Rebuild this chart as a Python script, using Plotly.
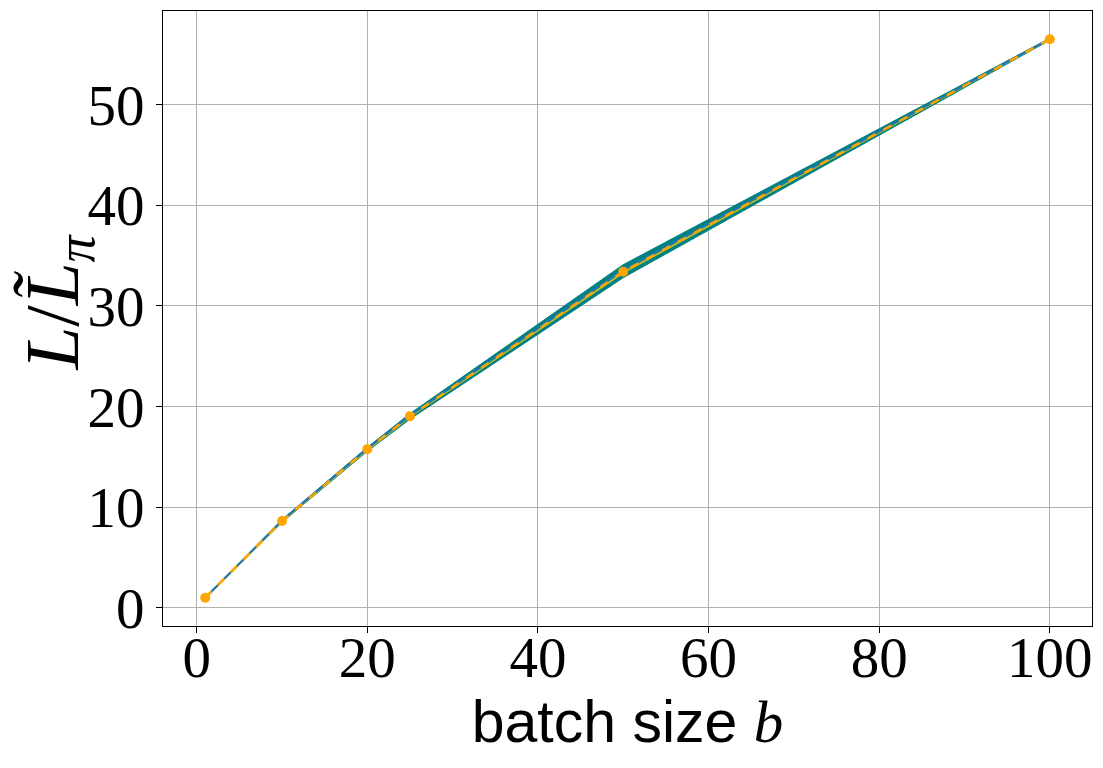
import plotly.graph_objects as go

batch = [1, 10, 20, 25, 50, 100]
ratio_mean = [1.0, 8.63, 15.77, 19.05, 33.4, 56.5]
ratio_low = [0.95, 8.5, 15.55, 18.75, 32.8, 56.4]
ratio_high = [1.05, 8.78, 15.95, 19.3, 34.1, 56.6]
run_a = [1.0, 8.6, 15.7, 19.0, 33.3, 56.5]
run_b = [1.0, 8.66, 15.82, 19.1, 33.55, 56.5]

x_ticks = [0, 20, 40, 60, 80, 100]
y_ticks = [0, 10, 20, 30, 40, 50]

fig = go.Figure()
fig.add_trace(go.Scatter(x=batch, y=ratio_low, mode="lines",
                         line=dict(color="teal", width=1), showlegend=False))
fig.add_trace(go.Scatter(x=batch, y=ratio_high, mode="lines", fill="tonexty",
                         fillcolor="teal", line=dict(color="teal", width=1),
                         showlegend=False))
fig.add_trace(go.Scatter(x=batch, y=run_a, mode="lines",
                         line=dict(color="#bcbd22", width=2), showlegend=False))
fig.add_trace(go.Scatter(x=batch, y=run_b, mode="lines",
                         line=dict(color="#1f77b4", width=2), showlegend=False))
fig.add_trace(go.Scatter(x=batch, y=ratio_mean, mode="lines+markers",
                         line=dict(color="orange", width=2.5, dash="dash"),
                         marker=dict(color="orange", size=10),
                         showlegend=False))

tick_font = dict(family="Liberation Serif, DejaVu Serif, serif", size=57, color="black")
fig.update_layout(
    width=1095, height=760,
    margin=dict(l=155, r=11, t=3, b=142),
    paper_bgcolor="white", plot_bgcolor="white",
    xaxis=dict(range=[-3.95, 104.95], tickvals=x_ticks, ticks="outside",
               ticklen=6, tickcolor="black", tickfont=tick_font,
               ticklabelstandoff=-24,
               showgrid=True, gridcolor="#b0b0b0", gridwidth=1,
               showline=True, linecolor="black", linewidth=1, mirror=True,
               zeroline=False, automargin=False,
               title=dict(text="batch size <span style='font-family:Liberation Serif'><i>b</i></span>",
                          font=dict(family="Liberation Sans, DejaVu Sans, sans-serif",
                                    size=59, color="black"),
                          standoff=0)),
    yaxis=dict(range=[-1.8, 59.3], tickvals=y_ticks, ticks="outside",
               ticklen=6, tickcolor="black", tickfont=tick_font,
               showgrid=True, gridcolor="#b0b0b0", gridwidth=1,
               showline=True, linecolor="black", linewidth=1, mirror=True,
               zeroline=False, automargin=False),
    annotations=[dict(text="<i>L</i>/<i>L̃</i><sub><i>π</i></sub>",
                      xref="paper", yref="paper", x=0, y=0.5,
                      xanchor="center", yanchor="middle",
                      xshift=-106, yshift=16, textangle=-90, showarrow=False,
                      font=dict(family="Liberation Serif, DejaVu Serif, serif",
                                size=77, color="black"))],
)

fig.write_html("out.html")
